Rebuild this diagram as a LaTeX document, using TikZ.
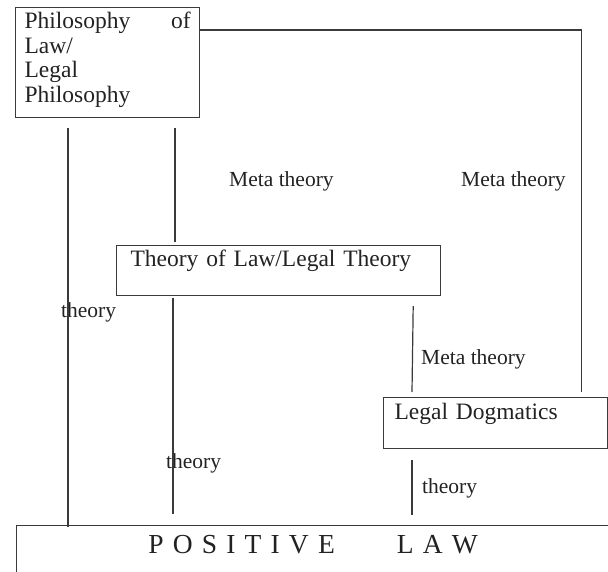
\documentclass[tikz,border=0pt]{standalone}
\usepackage{fontspec}
\setmainfont{Liberation Serif}
\usetikzlibrary{positioning}
\usepackage{xcolor}
\definecolor{InkGray}{HTML}{222222}
\definecolor{RuleGray}{HTML}{3A3A3A}

\begin{document}
\begin{tikzpicture}[x=1pt, y=-1pt,
      tbox/.style={draw=RuleGray, line width=1.2pt, text=InkGray, inner sep=0pt,
                   align=left, anchor=north west, font=\fontsize{23.5}{24.6}\selectfont},
      lbl/.style={text=InkGray, inner sep=0pt, anchor=base west,
                  font=\fontsize{21.5}{24}\selectfont},
      link/.style={draw=RuleGray, line width=1.2pt}
    ]
      \useasboundingbox (0,0) rectangle (608,572);

      \node[tbox, text width=166pt, inner xsep=9pt, text height=21pt, text depth=89pt] (philo) at (15,7)
        {Philosophy\hspace{0pt plus 1filll}of\\Law/\\Legal\\Philosophy};
      \node[tbox, text width=296pt, inner xsep=14pt, text height=21pt, text depth=29pt] (legtheory) at (116,245)
        {Theory of Law/Legal Theory};
      \node[tbox, text width=202pt, inner xsep=11pt, text height=22pt, text depth=29pt] (dogm) at (383,397)
        {Legal Dogmatics};
      \node[tbox, align=center, text width=593pt, text height=28pt, text depth=50pt,
            font=\fontsize{27.5}{32}\selectfont] (poslaw) at (16,525)
        {P O S I T I V E\hspace{62pt}L A W};

      \node[lbl] (mtA) at (229,187) {Meta theory};
      \node[lbl] (mtB) at (461,187) {Meta theory};
      \node[lbl] (mtC) at (421,364) {Meta theory};
      \node[lbl] (thA) at (61,317) {theory};
      \node[lbl] (thB) at (166,468) {theory};
      \node[lbl] (thC) at (422,493) {theory};

      \draw[link] ([shift={(53,10)}]philo.south west) -- ([shift={(52,2)}]poslaw.north west);
      \draw[link] ([shift={(160,10)}]philo.south west) -- ([shift={(59,-3)}]legtheory.north west);
      \draw[link] ([shift={(-1,23)}]philo.north east) -| ([shift={(-27,-5)}]dogm.north east);
      \draw[link] ([shift={(57,2)}]legtheory.south west) -- ([shift={(157,-11)}]poslaw.north west);
      \draw[link] ([shift={(-28,10)}]legtheory.south east) -- ([shift={(29,-5)}]dogm.north west);
      \draw[link] ([shift={(29,11)}]dogm.south west) -- ([shift={(396,-10)}]poslaw.north west);
    \end{tikzpicture}
\end{document}
